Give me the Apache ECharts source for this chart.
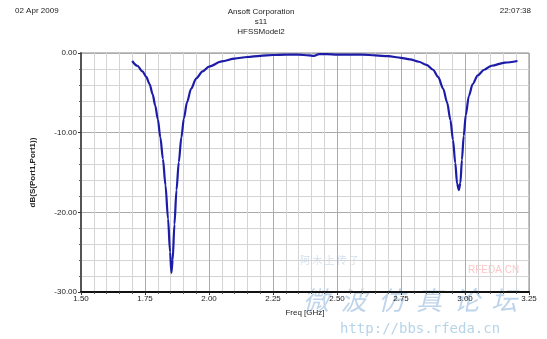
<!DOCTYPE html>
<html><head><meta charset="utf-8">
<script src="https://cdn.jsdelivr.net/npm/echarts@6/dist/echarts.min.js"></script>
<style>html,body{margin:0;padding:0;background:#fff}#c{width:547px;height:339px}</style>
</head><body><div id="c"></div>
<script>
const freq = [1.70,1.72,1.74,1.755,1.768,1.78,1.79,1.80,1.81,1.82,1.83,1.84,1.848,1.853,1.858,1.865,1.873,1.882,1.892,1.902,1.914,1.93,1.95,1.975,2.00,2.05,2.10,2.15,2.20,2.25,2.30,2.35,2.39,2.41,2.43,2.46,2.50,2.55,2.60,2.65,2.70,2.75,2.785,2.82,2.85,2.875,2.895,2.915,2.93,2.943,2.953,2.962,2.969,2.976,2.982,2.988,2.995,3.003,3.015,3.03,3.05,3.075,3.104,3.156,3.205];
const s11 = [-1.0,-1.6,-2.3,-3.0,-3.9,-5.2,-6.6,-8.3,-10.6,-13.3,-16.6,-20.8,-25.0,-27.6,-26.0,-21.5,-17.2,-13.7,-10.6,-8.2,-6.2,-4.5,-3.2,-2.3,-1.7,-1.05,-0.7,-0.5,-0.35,-0.25,-0.2,-0.2,-0.3,-0.35,-0.15,-0.15,-0.2,-0.2,-0.2,-0.3,-0.4,-0.6,-0.8,-1.1,-1.5,-2.1,-3.0,-4.5,-6.2,-8.4,-10.9,-13.8,-16.4,-17.2,-16.3,-13.4,-10.4,-7.8,-5.4,-3.9,-2.8,-2.1,-1.6,-1.2,-1.0];
const xTitle = 'Freq [GHz]';
const yTitle = 'dB(S(Port1,Port1))';

const chart = echarts.init(document.getElementById('c'));
const F = 'Liberation Sans, Arial, sans-serif';
chart.setOption({
  backgroundColor: '#fff',
  animation: false,
  grid: {left: 81, right: 18, top: 53, bottom: 47, show: true, borderColor: '#888', borderWidth: 1},
  xAxis: {
    type: 'value', min: 1.5, max: 3.25, interval: 0.25,
    name: xTitle, nameLocation: 'middle', nameGap: 17,
    nameTextStyle: {fontFamily: F, fontSize: 8, color: '#222'},
    axisLine: {show: true, onZero: false, lineStyle: {color: '#111', width: 2}},
    axisTick: {show: true, length: 3, lineStyle: {color: '#333'}},
    minorTick: {show: true, splitNumber: 5, length: 2, lineStyle: {color: '#555'}},
    axisLabel: {fontFamily: F, fontSize: 8, color: '#222', margin: 3, formatter: v => v.toFixed(2)},
    splitLine: {show: true, lineStyle: {color: '#aaa', width: 1}},
    minorSplitLine: {show: true, lineStyle: {color: '#d4d4d4', width: 1}}
  },
  yAxis: {
    type: 'value', min: -30, max: 0, interval: 10,
    name: yTitle, nameLocation: 'middle', nameGap: 44, nameRotate: 90,
    nameTextStyle: {fontFamily: F, fontSize: 8, fontWeight: 'bold', color: '#222'},
    axisLine: {show: true, onZero: false, lineStyle: {color: '#555', width: 2}},
    axisTick: {show: true, length: 3, lineStyle: {color: '#333'}},
    minorTick: {show: true, splitNumber: 5, length: 2, lineStyle: {color: '#555'}},
    axisLabel: {fontFamily: F, fontSize: 8, color: '#222', margin: 4, formatter: v => v.toFixed(2)},
    splitLine: {show: true, lineStyle: {color: '#aaa', width: 1}},
    minorSplitLine: {show: true, lineStyle: {color: '#d4d4d4', width: 1}}
  },
  series: [{
    type: 'line', data: freq.map((f, i) => [f, s11[i]]),
    showSymbol: false, smooth: 0.3, smoothMonotone: 'x',
    lineStyle: {color: '#1c1ca8', width: 2.2}
  }],
  graphic: [
    {type: 'text', left: 15, top: 7, style: {text: '02 Apr 2009', font: '8px ' + F, fill: '#222'}},
    {type: 'text', right: 16, top: 7, style: {text: '22:07:38', font: '8px ' + F, fill: '#222'}},
    {type: 'text', x: 261, y: 7, style: {text: 'Ansoft Corporation\ns11\nHFSSModel2', font: '8px ' + F, fill: '#222', align: 'center', lineHeight: 10}},
    {type: 'text', x: 468, y: 265, style: {text: 'RFEDA.CN', font: '10px ' + F, fill: 'rgba(255,150,150,0.55)'}},
    {type: 'text', x: 303, y: 287, style: {text: '微  波  仿  真  论  坛', font: 'italic 26px "Noto Sans CJK SC"', fill: 'rgba(110,160,210,0.45)'}},
    {type: 'text', x: 340, y: 322, style: {text: 'http://bbs.rfeda.cn', font: '14px "DejaVu Sans Mono", monospace', fill: 'rgba(110,170,210,0.5)'}},
    {type: 'text', x: 300, y: 255, style: {text: '阿 木 上 传 子', font: '10px "Noto Sans CJK SC"', fill: 'rgba(150,185,220,0.45)'}}
  ]
});
</script></body></html>
